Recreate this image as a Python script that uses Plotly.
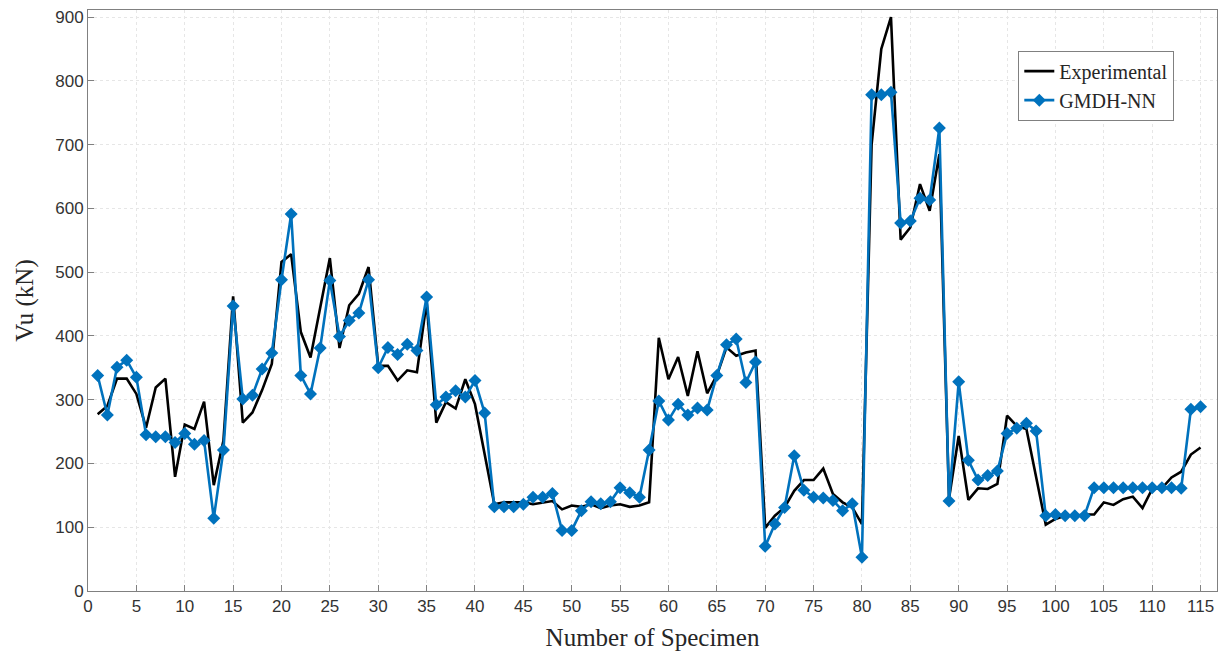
import plotly.graph_objects as go

specimen = list(range(1, 116))

experimental = [
    277, 290, 333, 333, 309, 256, 319, 333, 179, 261,
    254, 297, 166, 236, 462, 264, 280, 315, 356, 516,
    528, 406, 366, 445, 522, 381, 448, 466, 508, 353,
    353, 330, 346, 343, 453, 264, 296, 286, 332, 293,
    215, 136, 139, 139, 139, 136, 138, 141, 128, 134,
    132, 136, 130, 134, 136, 132, 134, 139, 397, 332,
    367, 306, 376, 310, 338, 382, 369, 374, 377, 99,
    118, 131, 157, 174, 174, 192, 152, 139, 131, 105,
    700, 850, 900, 551, 570, 638, 596, 685, 145, 243,
    143, 161, 160, 168, 275, 259, 254, 180, 104, 113,
    118, 118, 120, 120, 139, 135, 144, 148, 130, 160,
    161, 178, 187, 214, 225,
]

gmdh_nn = [
    338, 276, 351, 362, 335, 245, 242, 242, 233, 247,
    230, 236, 114, 221, 447, 301, 307, 348, 373, 488,
    591, 338, 309, 381, 487, 399, 424, 436, 488, 350,
    382, 371, 387, 377, 461, 292, 304, 314, 304, 330,
    279, 132, 132, 132, 136, 147, 147, 153, 95, 95,
    126, 140, 137, 140, 162, 154, 147, 221, 298, 268,
    293, 276, 287, 284, 338, 386, 395, 327, 359, 70,
    105, 131, 212, 158, 147, 146, 142, 126, 137, 53,
    778, 778, 782, 577, 580, 616, 613, 726, 141, 328,
    205, 174, 181, 188, 247, 255, 263, 251, 118, 120,
    118, 118, 118, 162, 162, 162, 162, 162, 162, 162,
    162, 162, 161, 285, 289,
]

x_ticks = list(range(0, 116, 5))
y_ticks = list(range(0, 901, 100))

fig = go.Figure()
fig.add_trace(go.Scatter(
    x=specimen, y=experimental, mode="lines", name="Experimental",
    line=dict(color="black", width=2.6),
))
fig.add_trace(go.Scatter(
    x=specimen, y=gmdh_nn, mode="lines+markers", name="GMDH-NN",
    line=dict(color="#0072BD", width=2.6),
    marker=dict(symbol="diamond", size=10, color="#0072BD"),
))

axis_common = dict(
    showline=True, linecolor="#808080", linewidth=1, mirror=True,
    ticks="inside", ticklen=6, tickcolor="#808080",
    showgrid=True, gridcolor="#e6e6e6", griddash="dot", gridwidth=1,
    zeroline=False, automargin=False, ticklabeloverflow="allow",
    tickfont=dict(family="Liberation Sans, Arial, sans-serif", size=17, color="#333333"),
)

fig.update_xaxes(
    range=[0, 116.7], tickvals=x_ticks,
    title=dict(text="Number of Specimen", standoff=13,
               font=dict(family="Liberation Serif, Times New Roman, serif", size=25, color="#262626")),
    **axis_common,
)
fig.update_yaxes(
    range=[0, 911], tickvals=y_ticks,
    title=dict(text="Vu (kN)", standoff=14,
               font=dict(family="Liberation Serif, Times New Roman, serif", size=25, color="#262626")),
    **axis_common,
)

fig.update_layout(
    width=1219, height=650,
    margin=dict(l=80, r=10, t=2, b=67),
    plot_bgcolor="white", paper_bgcolor="white",
    legend=dict(
        x=0.824, y=0.93, xanchor="left", yanchor="top",
        bgcolor="white", bordercolor="#808080", borderwidth=1,
        font=dict(family="Liberation Serif, Times New Roman, serif", size=20, color="#262626"),
        tracegroupgap=0, itemwidth=30,
    ),
    showlegend=True,
)

fig.write_html("out.html")
